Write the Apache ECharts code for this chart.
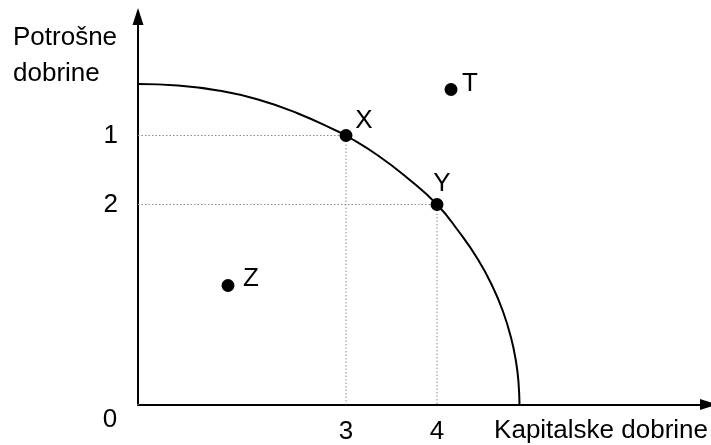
<!DOCTYPE html>
<html>
<head>
<meta charset="utf-8">
<script src="https://cdn.jsdelivr.net/npm/echarts@6/dist/echarts.min.js"></script>
<style>
html,body{margin:0;padding:0;background:#fff;}
#c{width:711px;height:445px;}
</style>
</head>
<body>
<div id="c"></div>
<script>
// ---- data ----
const xAxisName = 'Kapitalske dobrine';
const yAxisName = 'Potrošne\ndobrine';
const originLabel = '0';

// production possibility frontier
const curveX = [0, 0.4, 0.8, 1.2, 1.6, 2.0, 2.08, 2.4, 2.7, 2.99, 3.2, 3.4, 3.55, 3.65, 3.73, 3.78, 3.805, 3.815];
const curveY = [3.205, 3.19, 3.14, 3.05, 2.91, 2.73, 2.69, 2.49, 2.26, 2.00, 1.74, 1.45, 1.17, 0.93, 0.67, 0.43, 0.22, 0];

// labelled points
const pointNames = ['X', 'Y', 'T', 'Z'];
const pointX = [2.08, 2.99, 3.13, 0.90];
const pointY = [2.69, 2.00, 3.15, 1.19];

// points with guide lines and their tick labels
const guideNames = ['X', 'Y'];
const yTickLabels = ['1', '2'];
const xTickLabels = ['3', '4'];

// ---- chart ----
const FONT = '"Liberation Sans", Arial, sans-serif';
const gx = guideNames.map(n => pointX[pointNames.indexOf(n)]);
const gy = guideNames.map(n => pointY[pointNames.indexOf(n)]);
const findLabel = (vals, labels, v) => {
  for (let i = 0; i < vals.length; i++) if (Math.abs(vals[i] - v) < 1e-6) return labels[i];
  return '';
};
const labelOffsets = { X: [18, -15], Y: [5, -21], T: [19, -6], Z: [23, -7] };

const guideSeries = guideNames.map((n, i) => ({
  type: 'line',
  silent: true,
  symbol: 'none',
  animation: false,
  z: 1,
  lineStyle: { color: '#8a8a8a', width: 1, type: [1.5, 2] },
  data: [[0, gy[i]], [gx[i], gy[i]], [gx[i], 0]]
}));

const chart = echarts.init(document.getElementById('c'), null, { renderer: 'canvas' });
chart.setOption({
  animation: false,
  backgroundColor: '#fff',
  textStyle: { fontFamily: FONT },
  title: [
    { text: yAxisName, left: 13, top: 19.5, padding: 0,
      textStyle: { fontFamily: FONT, fontSize: 26, fontWeight: 'normal', color: '#000', lineHeight: 36 } },
    { text: xAxisName, right: 3, top: 418, padding: 0,
      textStyle: { fontFamily: FONT, fontSize: 26, fontWeight: 'normal', color: '#000', lineHeight: 26 } }
  ],
  grid: { left: 138, right: 2.5, top: 16.5, bottom: 40.5, containLabel: false, outerBoundsMode: 'none' },
  xAxis: {
    type: 'value', min: 0, max: 5.705,
    splitLine: { show: false },
    axisTick: { show: false },
    axisLine: { lineStyle: { color: '#000', width: 2 }, symbol: ['none', 'triangle'], symbolSize: [11, 17] },
    axisLabel: {
      customValues: gx, margin: 14, fontSize: 26, color: '#000', fontFamily: FONT,
      formatter: v => findLabel(gx, xTickLabels, v)
    }
  },
  yAxis: {
    type: 'value', min: 0, max: 3.88,
    splitLine: { show: false },
    axisTick: { show: false },
    axisLine: { lineStyle: { color: '#000', width: 2 }, symbol: ['none', 'triangle'], symbolSize: [11, 17] },
    axisLabel: {
      customValues: gy, margin: 20, fontSize: 26, color: '#000', fontFamily: FONT,
      formatter: v => findLabel(gy, yTickLabels, v)
    }
  },
  series: [
    ...guideSeries,
    {
      type: 'line',
      silent: true,
      symbol: 'none',
      smooth: true,
      z: 2,
      lineStyle: { color: '#000', width: 2 },
      data: curveX.map((x, i) => [x, curveY[i]])
    },
    {
      type: 'scatter',
      silent: true,
      z: 3,
      symbolSize: 13,
      itemStyle: { color: '#000', opacity: 1 },
      data: pointNames.map((n, i) => ({
        name: n,
        value: [pointX[i], pointY[i]],
        label: {
          show: true, formatter: n, position: 'inside',
          offset: labelOffsets[n], align: 'center', verticalAlign: 'middle',
          fontSize: 26, color: '#000', fontFamily: FONT
        }
      }))
    },
    {
      type: 'scatter',
      silent: true,
      z: 3,
      symbolSize: 1,
      itemStyle: { color: '#fff', opacity: 1 },
      data: [{
        value: [0, 0],
        label: {
          show: true, formatter: originLabel, position: 'inside',
          offset: [-28, 15.5], align: 'center', verticalAlign: 'middle',
          fontSize: 26, color: '#000', fontFamily: FONT
        }
      }]
    }
  ]
});
</script>
</body>
</html>
